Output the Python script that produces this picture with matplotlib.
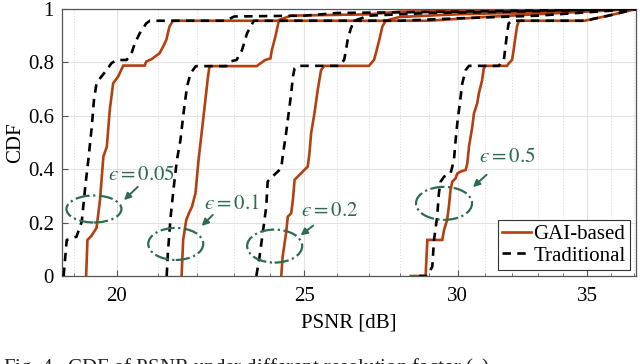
import matplotlib
matplotlib.use("Agg")
import matplotlib.pyplot as plt
from matplotlib.patches import Ellipse
from matplotlib.transforms import ScaledTranslation
from matplotlib.ticker import FixedLocator, FixedFormatter, NullFormatter

plt.rcParams['font.family'] = ['Liberation Serif', 'DejaVu Serif']
plt.rcParams['mathtext.fontset'] = 'stix'

# ---------------- data ----------------
gai_005_x = [19.28, 19.31, 19.40, 19.52, 19.60, 19.68, 19.76, 19.83, 19.91, 20.03, 20.15, 20.67, 20.71, 20.84,
             21.04, 21.13, 21.21, 21.29, 21.38, 24.2, 24.6, 27.0, 28.0, 33.0, 37.1]
gai_005_y = [0.0, 0.135, 0.15, 0.18, 0.284, 0.447, 0.484, 0.622, 0.722, 0.747, 0.788, 0.788, 0.803, 0.812,
             0.834, 0.859, 0.884, 0.934, 0.956, 0.956, 0.975, 0.98, 0.99, 0.995, 1.0]
trad_005_x = [18.77, 18.84, 19.06, 19.18, 19.26, 19.33, 19.41, 19.46, 19.52, 19.60, 19.76, 19.87, 19.99, 20.23,
              20.35, 20.43, 20.55, 20.71, 20.80, 22.75, 23.0, 25.0, 26.0, 30.0, 37.1]
trad_005_y = [0.0, 0.135, 0.147, 0.204, 0.335, 0.434, 0.559, 0.659, 0.722, 0.740, 0.772, 0.797, 0.809, 0.809,
              0.834, 0.871, 0.909, 0.946, 0.956, 0.956, 0.972, 0.975, 0.985, 0.99, 1.0]

gai_01_x = [21.60, 21.64, 21.72, 21.79, 21.87, 21.96, 22.04, 22.08, 22.16, 22.25, 22.29, 22.33, 23.62, 23.72,
            23.86, 24.01, 24.05, 24.15, 24.25, 29.0, 31.0, 37.1]
gai_01_y = [0.0, 0.135, 0.21, 0.235, 0.26, 0.31, 0.434, 0.484, 0.584, 0.697, 0.747, 0.786, 0.786, 0.796,
            0.809, 0.815, 0.846, 0.896, 0.956, 0.956, 0.97, 1.0]
trad_01_x = [21.22, 21.25, 21.32, 21.40, 21.48, 21.57, 21.66, 21.74, 21.83, 21.97, 22.78, 22.87, 23.06, 23.21,
             23.35, 23.54, 28.0, 30.0, 33.0, 37.1]
trad_01_y = [0.0, 0.085, 0.222, 0.334, 0.434, 0.509, 0.622, 0.709, 0.759, 0.786, 0.786, 0.803, 0.809, 0.846,
             0.909, 0.956, 0.956, 0.965, 0.975, 1.0]

gai_02_x = [24.32, 24.36, 24.46, 24.51, 24.61, 24.66, 24.71, 24.80, 24.95, 25.10, 25.15, 25.20, 25.30, 25.40,
            25.50, 25.60, 27.00, 27.06, 27.16, 27.22, 27.33, 27.43, 27.54, 28.0, 30.0, 34.0, 37.1]
gai_02_y = [0.0, 0.072, 0.160, 0.222, 0.235, 0.285, 0.36, 0.372, 0.391, 0.41, 0.459, 0.534, 0.609, 0.697,
            0.771, 0.787, 0.787, 0.796, 0.809, 0.834, 0.884, 0.934, 0.956, 0.97, 0.98, 0.99, 1.0]
trad_02_x = [23.61, 23.70, 23.79, 23.89, 23.93, 23.98, 24.22, 24.32, 24.36, 24.46, 24.56, 24.61, 24.66, 24.71,
             24.80, 26.06, 26.11, 26.21, 26.27, 26.32, 26.42, 26.53, 27.0, 29.0, 32.0, 37.1]
trad_02_y = [0.0, 0.072, 0.160, 0.260, 0.353, 0.362, 0.391, 0.403, 0.447, 0.534, 0.634, 0.684, 0.746, 0.778,
             0.787, 0.787, 0.796, 0.809, 0.846, 0.884, 0.927, 0.956, 0.975, 0.985, 0.99, 1.0]

gai_05_x = [28.37, 28.88, 28.94, 29.46, 29.52, 29.63, 29.69, 29.75, 29.81, 29.93, 29.99, 30.11, 30.29, 30.35,
            30.41, 30.53, 30.59, 30.71, 30.77, 30.89, 30.95, 31.01, 31.82, 31.88, 32.01, 32.07, 32.14, 32.20,
            32.27, 34.9, 35.9, 37.1]
gai_05_y = [0.0, 0.0, 0.135, 0.135, 0.172, 0.21, 0.26, 0.322, 0.353, 0.366, 0.384, 0.391, 0.397, 0.422,
            0.484, 0.559, 0.609, 0.647, 0.684, 0.734, 0.778, 0.787, 0.787, 0.796, 0.809, 0.846, 0.896, 0.934,
            0.956, 0.956, 0.975, 1.0]
trad_05_x = [28.66, 28.94, 29.11, 29.17, 29.28, 29.34, 29.40, 29.52, 29.63, 29.75, 29.87, 29.93, 29.99, 30.05,
             30.11, 30.17, 30.29, 30.41, 31.51, 31.57, 31.70, 31.76, 31.82, 31.88, 32.01, 34.9, 35.9, 37.1]
trad_05_y = [0.0, 0.0, 0.035, 0.135, 0.222, 0.31, 0.353, 0.372, 0.378, 0.384, 0.434, 0.509, 0.572, 0.622,
             0.672, 0.722, 0.771, 0.787, 0.787, 0.796, 0.809, 0.859, 0.909, 0.946, 0.956, 0.956, 0.975, 1.0]

eps_labels = ['$\u03f5 = 0.05$', '$\u03f5 = 0.1$', '$\u03f5 = 0.2$', '$\u03f5 = 0.5$']
x_ticks = [20, 25, 30, 35]
x_tick_labels = ['20', '25', '30', '35']
y_ticks = [0, 0.2, 0.4, 0.6, 0.8, 1.0]
y_tick_labels = ['0', '0.2', '0.4', '0.6', '0.8', '1']
series_names = ['GAI-based', 'Traditional']
caption = 'Fig. 4.  CDF of PSNR under different resolution factor ($\u03f5$).'

# ---------------- style ----------------
RED = '#b5400f'
GREEN = '#2f6b4f'
FS = 15

fig = plt.figure(figsize=(6.4, 3.64), dpi=100)
ax = fig.add_axes([0.0973, 0.2418, 0.8965, 0.7335])

gai_sets = [(gai_005_x, gai_005_y), (gai_01_x, gai_01_y), (gai_02_x, gai_02_y), (gai_05_x, gai_05_y)]
trad_sets = [(trad_005_x, trad_005_y), (trad_01_x, trad_01_y), (trad_02_x, trad_02_y), (trad_05_x, trad_05_y)]

for i, (gx, gy) in enumerate(gai_sets):
    ax.plot(gx, gy, color=RED, lw=1.9, solid_joinstyle='miter',
            label=series_names[0] if i == 0 else None, zorder=3)
for i, (tx, ty) in enumerate(trad_sets):
    ax.plot(tx, ty, color='black', lw=1.9, linestyle=(0, (3.2, 2.4)),
            label=series_names[1] if i == 0 else None, zorder=4)

ax.set_xscale('log')
ax.set_xlim(18.74, 37.1)
ax.set_ylim(0, 1)
ax.xaxis.set_major_locator(FixedLocator(x_ticks))
ax.xaxis.set_major_formatter(FixedFormatter(x_tick_labels))
ax.xaxis.set_minor_locator(FixedLocator([v for v in range(19, 38) if v not in x_ticks]))
ax.xaxis.set_minor_formatter(NullFormatter())
ax.yaxis.set_major_locator(FixedLocator(y_ticks))
ax.yaxis.set_major_formatter(FixedFormatter(y_tick_labels))

ax.grid(True, which='major', color='#e3e3e3', lw=0.8, zorder=0)
ax.grid(True, which='minor', axis='x', color='#d8d8d8', lw=0.7, linestyle=(0, (1, 2)), zorder=0)
ax.set_axisbelow(True)
ax.tick_params(axis='both', which='both', direction='in', labelsize=FS, color='#555555')
ax.tick_params(axis='both', which='major', length=4, pad=6)
ax.tick_params(axis='x', which='major', pad=8)
ax.tick_params(axis='x', which='minor', length=2)
for s in ax.spines.values():
    s.set_color('#555555')
    s.set_linewidth(0.9)

ax.set_xlabel('PSNR [dB]', fontsize=FS, labelpad=5)
ax.set_ylabel('CDF', fontsize=FS, labelpad=2)

# ellipses (centres in data units, sizes in inches)
ell_centres = [(19.46, 0.251), (21.45, 0.12), (24.13, 0.112), (29.52, 0.272)]
ell_sizes = [(0.55, 0.27), (0.55, 0.32), (0.55, 0.33), (0.56, 0.33)]
for (cx, cy), (w, h) in zip(ell_centres, ell_sizes):
    e = Ellipse((0, 0), w, h, fill=False, edgecolor=GREEN, lw=1.6, linestyle='-.',
                transform=fig.dpi_scale_trans + ScaledTranslation(cx, cy, ax.transData), zorder=5)
    ax.add_patch(e)

label_pos = [(20.60, 0.375), (22.92, 0.266), (25.75, 0.243), (31.81, 0.442)]
arrow_tail = [(20.55, 0.341), (22.47, 0.236), (25.33, 0.195), (31.13, 0.386)]
arrow_head = [(20.12, 0.277), (22.07, 0.180), (24.82, 0.146), (30.48, 0.326)]
for lab, (lx, ly), tail, head in zip(eps_labels, label_pos, arrow_tail, arrow_head):
    ax.text(lx, ly, lab, color=GREEN, fontsize=FS, ha='center', va='center', zorder=6)
    ax.annotate('', xy=head, xytext=tail,
                arrowprops=dict(arrowstyle='-|>', color=GREEN, lw=1.4, mutation_scale=10), zorder=6)

leg = ax.legend(loc='lower right', fontsize=FS, frameon=True, fancybox=False, edgecolor='#333333',
                framealpha=1, handlelength=1.4, handletextpad=0.1, borderpad=0.2, labelspacing=0.1,
                borderaxespad=0.3)
leg.get_frame().set_linewidth(0.8)

fig.text(0.005, 8 / 364, caption, fontsize=FS, ha='left', va='top', color='#222222')

fig.savefig('out.png', dpi=100)
